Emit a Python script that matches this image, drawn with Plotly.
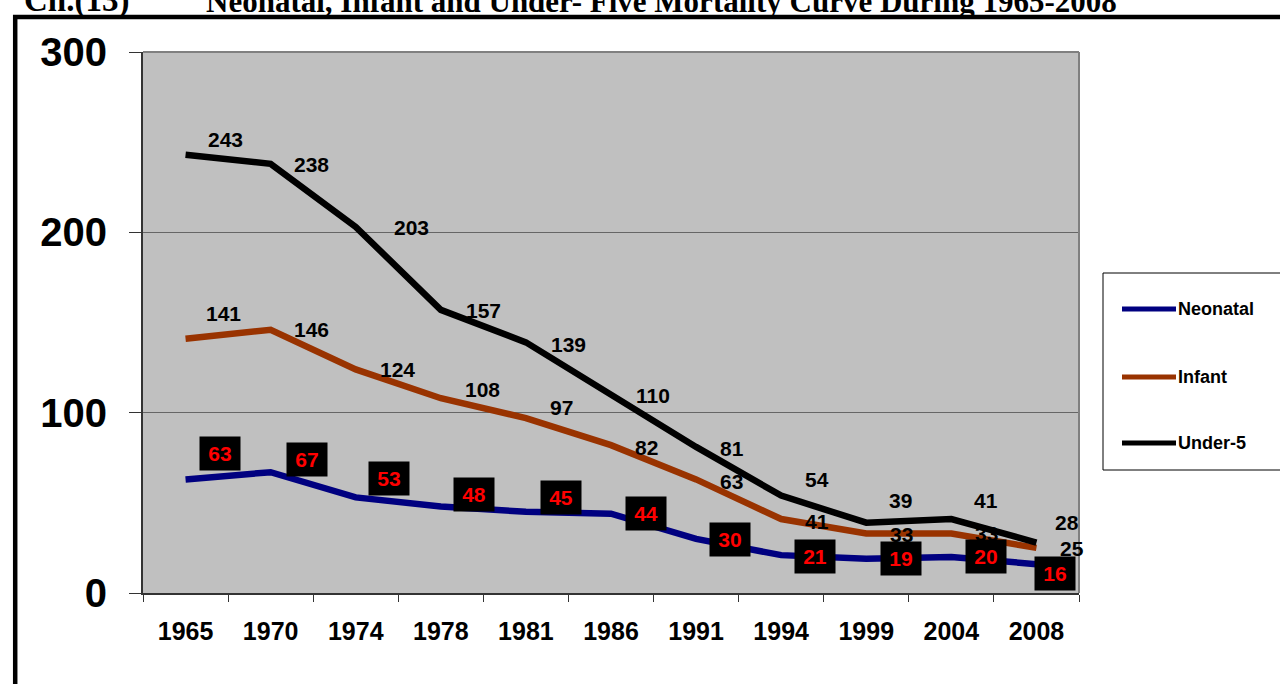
import plotly.graph_objects as go

# ---------------- data ----------------
years = ["1965", "1970", "1974", "1978", "1981", "1986", "1991", "1994", "1999", "2004", "2008"]
neonatal = [63, 67, 53, 48, 45, 44, 30, 21, 19, 20, 16]
infant = [141, 146, 124, 108, 97, 82, 63, 41, 33, 33, 25]
under5 = [243, 238, 203, 157, 139, 110, 81, 54, 39, 41, 28]
series_names = ["Neonatal", "Infant", "Under-5"]
y_ticks = [0, 100, 200, 300]

title_prefix = "Ch.(13)"
title_main = "Neonatal, Infant and Under- Five Mortality Curve During 1965-2008"

# ---------------- styles ----------------
colors = ["#000080", "#993300", "#000000"]
FONT = "Arial, 'Liberation Sans', sans-serif"
SERIF = "'Times New Roman', 'Liberation Serif', serif"

# label offsets (pixels) for the data labels (style only)
u5_dx = [20, 21, 36, 23, 23, 23, 22, 22, 21, 21, 17]
u5_dy = [-15, 1, 1, 1, 2, 1, 2, -16, -22, -19, -20]
inf_dx = [18, 21, 22, 22, 22, 22, 22, 22, 22, 22, 22]
inf_dy = [-25, 0, 0, -9, -11, 2, 2, 2, 1, 0, 1]
neo_dx = [34, 36, 33, 33, 35, 35, 34, 34, 35, 35, 19]
neo_dy = [-26, -13, -19, -12, -14, 0, 1, 1, 0, 0, 9]

# plot area geometry in pixels
W_FIG, H_FIG = 1280, 684
L, R, T, B = 143, 1079, 52, 593
PW, PH = R - L, B - T


def px_x(px):
    return (px - L) / PW


def px_y(py):
    return (B - py) / PH


fig = go.Figure()
for name, vals, col in zip(series_names, [neonatal, infant, under5], colors):
    fig.add_trace(go.Scatter(
        x=years, y=vals, name=name, mode="lines",
        line=dict(color=col, width=6.5), showlegend=False, hoverinfo="x+y+name",
    ))

annotations = []
# Under-5 labels (x given as category index on the category axis)
for i, (v, dx, dy) in enumerate(zip(under5, u5_dx, u5_dy)):
    annotations.append(dict(x=i, y=v, xref="x", yref="y", text=str(v), showarrow=False,
                            xanchor="left", yanchor="middle", xshift=dx, yshift=-dy,
                            font=dict(family=FONT, size=21, color="black", weight="bold")))
# Infant labels
for i, (v, dx, dy) in enumerate(zip(infant, inf_dx, inf_dy)):
    annotations.append(dict(x=i, y=v, xref="x", yref="y", text=str(v), showarrow=False,
                            xanchor="left", yanchor="middle", xshift=dx, yshift=-dy,
                            font=dict(family=FONT, size=21, color="black", weight="bold")))
# Neonatal labels (red on black boxes)
for i, (v, dx, dy) in enumerate(zip(neonatal, neo_dx, neo_dy)):
    annotations.append(dict(x=i, y=v, xref="x", yref="y", text=str(v), showarrow=False,
                            xanchor="center", yanchor="middle", xshift=dx, yshift=-dy,
                            width=40, height=33, bgcolor="black", borderpad=0,
                            font=dict(family=FONT, size=21, color="red", weight="bold")))

# title (partly cut off at top)
annotations.append(dict(x=px_x(22), y=px_y(21), xref="paper", yref="paper", text=title_prefix,
                        showarrow=False, xanchor="left", yanchor="bottom",
                        font=dict(family=SERIF, size=33, color="black", weight="bold")))
annotations.append(dict(x=px_x(204), y=px_y(21), xref="paper", yref="paper", text=title_main,
                        showarrow=False, xanchor="left", yanchor="bottom",
                        font=dict(family=SERIF, size=31, color="black", weight="bold")))

shapes = []
# outer black frame (top and left)
shapes.append(dict(type="line", xref="paper", yref="paper", x0=px_x(13), x1=px_x(1290),
                   y0=px_y(17), y1=px_y(17), line=dict(color="black", width=4.5)))
shapes.append(dict(type="line", xref="paper", yref="paper", x0=px_x(15.2), x1=px_x(15.2),
                   y0=px_y(15), y1=px_y(700), line=dict(color="black", width=4.5)))
# plot-area top and right borders
shapes.append(dict(type="line", xref="paper", yref="paper", x0=0, x1=1, y0=1, y1=1,
                   line=dict(color="#808080", width=2)))
shapes.append(dict(type="line", xref="paper", yref="paper", x0=1, x1=1, y0=0, y1=1,
                   line=dict(color="#808080", width=2)))

# custom legend
leg_y = [309, 377, 443]
shapes.append(dict(type="rect", xref="paper", yref="paper", x0=px_x(1103), x1=px_x(1290),
                   y0=px_y(470), y1=px_y(273), line=dict(color="black", width=1),
                   fillcolor="white"))
for name, col, ly in zip(series_names, colors, leg_y):
    shapes.append(dict(type="line", xref="paper", yref="paper", x0=px_x(1122), x1=px_x(1176),
                       y0=px_y(ly), y1=px_y(ly), line=dict(color=col, width=5)))
    annotations.append(dict(x=px_x(1176), y=px_y(ly), xref="paper", yref="paper", text=name,
                            showarrow=False, xanchor="left", yanchor="middle",
                            font=dict(family=FONT, size=18, color="black", weight="bold")))

fig.update_layout(
    width=W_FIG, height=H_FIG,
    margin=dict(l=L, r=W_FIG - R, t=T, b=H_FIG - B, pad=0),
    paper_bgcolor="white", plot_bgcolor="#C0C0C0",
    showlegend=False,
    annotations=annotations, shapes=shapes,
    xaxis=dict(type="category", categoryorder="array", categoryarray=years,
               range=[-0.5, len(years) - 0.5], autorange=False,
               tickson="boundaries", ticks="outside", ticklen=7, tickwidth=1, tickcolor="#333333",
               showgrid=False, showline=True, linecolor="#333333", linewidth=1.5,
               tickfont=dict(family=FONT, size=25, color="black", weight="bold"),
               ticklabelstandoff=15, zeroline=False, tickangle=0),
    yaxis=dict(range=[0, 300], autorange=False, tickvals=y_ticks,
               ticktext=[str(t) for t in y_ticks],
               ticks="outside", ticklen=12, tickwidth=1, tickcolor="#333333",
               showgrid=True, gridcolor="#666666", gridwidth=1,
               showline=True, linecolor="#333333", linewidth=2, zeroline=False,
               tickfont=dict(family=FONT, size=40, color="black", weight="bold"),
               ticklabelstandoff=14),
)

fig.write_html("out.html", config={"displayModeBar": False},
               post_script="document.body.style.margin='0';document.body.style.overflow='hidden';")
